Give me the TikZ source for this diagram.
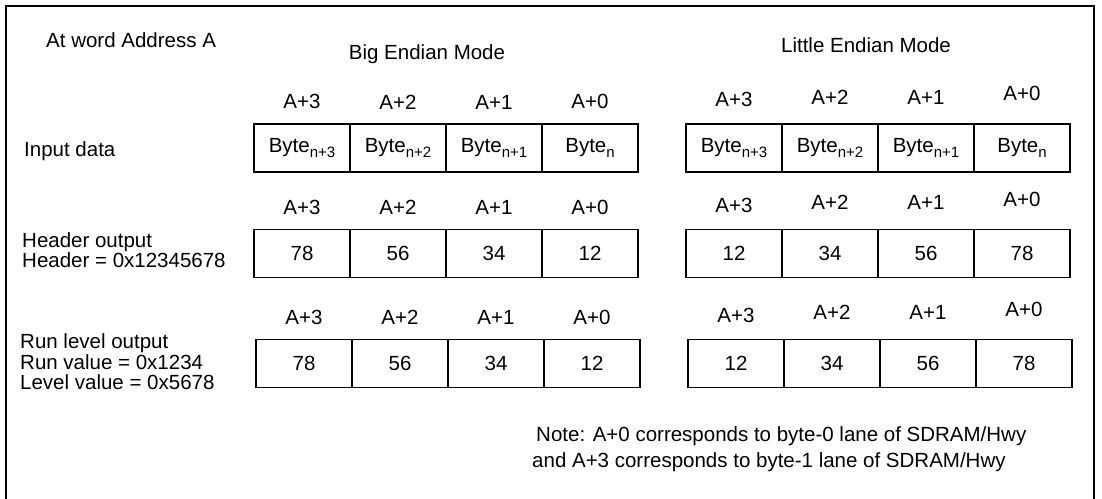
\documentclass[tikz,border=0pt]{standalone}
\usepackage{fontspec}
\setmainfont{Liberation Sans}
\usetikzlibrary{positioning}
\newcommand{\bytesub}[1]{Byte\raisebox{-4.5pt}{\fontsize{15}{15}\selectfont #1}}

\begin{document}
\begin{tikzpicture}[x=1pt,y=-1pt,
  cell/.style={draw=black,line width=1.5pt,minimum width=96pt,minimum height=48pt,inner sep=0pt,font=\fontsize{20.5}{20.5}\selectfont},
  lbl/.style={inner sep=0pt,font=\fontsize{20.5}{20.5}\selectfont},
  txt/.style={lbl,anchor=west,align=left}]
  \useasboundingbox (0,0) rectangle (1102,498);
  \draw[line width=2pt] (6,505) -- (6,6) -- (1094,6) -- (1094,505);
  \node[txt] (addr) at (46,40) {At word Address A};
  \node[lbl] (big) at (427,54) {Big Endian Mode};
  \node[lbl] (little) at (866,45) {Little Endian Mode};
  \node[txt] (inp) at (24,151) {Input data};
  \node[txt] (hdr) at (22,250) {Header output\\Header = 0x12345678};
  \node[txt] (run) at (20,362) {Run level output\\Run value = 0x1234\\Level value = 0x5678};
  \foreach \k/\b in {0/n+3,1/n+2,2/n+1,3/n} {
    \node[cell] (bi\k) at (302+96*\k,148) {\bytesub{\b}};
    \node[cell] (li\k) at (734+96*\k,148) {\bytesub{\b}};
  }
  \foreach \k/\u/\v in {0/78/12,1/56/34,2/34/56,3/12/78} {
    \node[cell] (bh\k) at (302+96*\k,253.5) {\u};
    \node[cell] (lh\k) at (734+96*\k,253.5) {\v};
    \node[cell] (br\k) at (304+96*\k,363.5) {\u};
    \node[cell] (lr\k) at (736+96*\k,363.5) {\v};
  }
  \foreach \k/\a/\d in {0/3/16,1/2/19,2/1/19,3/0/22} {
    \foreach \r in {i,h,r} {
      \node[lbl,above=14pt of b\r\k] (ba\r\k) {A+\a};
      \node[lbl,above=\d pt of l\r\k] (la\r\k) {A+\a};
    }
  }
  \node[txt] (note1) at (536,436) {Note: A+0 corresponds to byte-0 lane of SDRAM/Hwy};
  \node[txt] (note2) at (532,462) {and A+3 corresponds to byte-1 lane of SDRAM/Hwy};
\end{tikzpicture}
\end{document}
